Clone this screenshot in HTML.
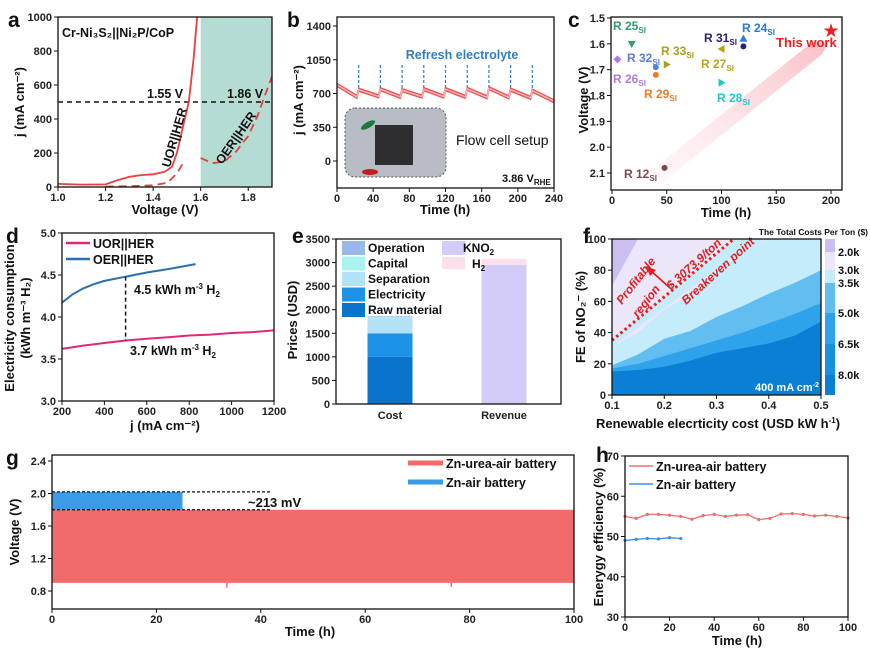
<!DOCTYPE html>
<html><head><meta charset="utf-8"><style>
html,body{margin:0;padding:0;background:#fff;}
svg{display:block;font-family:"Liberation Sans",Arial,sans-serif;}
.tk{font-size:11px;font-weight:bold;fill:#222;}
.tt{font-size:13px;font-weight:bold;fill:#111;}
.pl{font-size:21px;font-weight:bold;fill:#111;}
.lg{font-size:12.5px;font-weight:bold;fill:#111;}
</style></head><body>
<svg id="fig" width="870" height="665" viewBox="0 0 870 665"></svg>
<script>
// ---------- data ----------
const aSolidV=[1.0,1.1,1.2,1.25,1.3,1.35,1.4,1.45,1.48,1.5,1.52,1.55,1.57,1.585];
const aSolidJ=[18,14,15,40,60,70,75,90,120,200,320,500,750,1000];
const aDashV1=[1.2,1.3,1.4,1.46,1.5,1.53];
const aDashJ1=[3,5,10,25,80,150];
const aDashV2=[1.6,1.65,1.7,1.75,1.8,1.84,1.86,1.9];
const aDashJ2=[170,140,150,210,300,420,500,650];
const bTime=[0,22,24,46,48,70,72,94,96,118,120,142,144,166,168,190,192,214,216,240];
const bJ=[790,665,740,670,745,665,735,668,745,668,745,665,748,660,755,660,740,655,730,620];
const bRefresh=[24,48,72,96,120,144,168,192,216];
const cLabels=['R 25','R 32','R 26','R 29','R 33','R 27','R 31','R 24','R 28','R 12'];
const cTime=[18,40,5,40,50,100,120,120,100,48];
const cVolt=[1.6,1.69,1.66,1.72,1.68,1.62,1.61,1.58,1.75,2.08];
const dJ=[200,300,400,500,600,700,800,900,1000,1100,1200];
const dUOR=[3.62,3.66,3.69,3.72,3.74,3.76,3.78,3.79,3.81,3.82,3.84];
const dJo=[200,250,300,350,400,500,600,700,830];
const dOER=[4.17,4.27,4.34,4.39,4.43,4.48,4.53,4.57,4.63];
const eCats=['Cost','Revenue'];
const eCostParts=['Raw material','Electricity','Separation','Capital','Operation'];
const eCostVals=[1000,500,320,20,20];
const eRevParts=['KNO2','H2'];
const eRevVals=[2950,130];
const fX=[0.1,0.15,0.2,0.25,0.3,0.35,0.4,0.45,0.5];
const fB1=[70,100,100,100,100,100,100,100,100];
const fB2=[31,40,55,64,79,93,100,100,100];
const fB3=[19,26,36,41,50,57,65,72,80];
const fB4=[17,20,25,30,35,40,46,52,59];
const fB5=[15,16,18,22,27,30,33,38,47];
const fLevels=['2.0k','3.0k','3.5k','5.0k','6.5k','8.0k'];
const hTimeU=[0,5,10,15,20,25,30,35,40,45,50,55,60,65,70,75,80,85,90,95,100];
const hEffU=[55.0,54.5,55.5,55.5,55.3,55.0,54.3,55.2,55.5,55.0,55.3,55.4,54.2,54.5,55.6,55.7,55.5,55.1,55.3,55.0,54.6];
const hTimeA=[0,5,10,15,20,25];
const hEffA=[49.0,49.3,49.5,49.4,49.7,49.5];
const gRed=[0.9,1.8];
const gBlue=[1.8,2.02];
const gBlueEnd=25;

// ---------- helpers ----------
const NS='http://www.w3.org/2000/svg';
const svg=document.getElementById('fig');
function mk(tag,attrs,parent,text,name,inter){
  const e=document.createElementNS(NS,tag);
  for(const k in attrs)e.setAttribute(k,attrs[k]);
  if(text!=null)e.textContent=text;
  
  
  (parent||svg).appendChild(e);return e;
}
function lin(d0,d1,r0,r1){return v=>r0+(v-d0)*(r1-r0)/(d1-d0);}
function pts(xs,ys,X,Y){return X.map((v,i)=>xs(v).toFixed(1)+','+ys(Y[i]).toFixed(1)).join(' ');}
function frame(g,L,R,T,B,xs,ys,xt,yt,xf,yf){
  xt.forEach(v=>{mk('line',{x1:xs(v),x2:xs(v),y1:B,y2:B+4,stroke:'#111','stroke-width':1},g,null,'x-tick');
    mk('text',{x:xs(v),y:B+14,'text-anchor':'middle',class:'tk'},g,xf(v),'x-tick-label');});
  yt.forEach(v=>{mk('line',{x1:L-4,x2:L,y1:ys(v),y2:ys(v),stroke:'#111','stroke-width':1},g,null,'y-tick');
    mk('text',{x:L-6,y:ys(v)+4,'text-anchor':'end',class:'tk'},g,yf(v),'y-tick-label');});
  mk('rect',{x:L,y:T,width:R-L,height:B-T,fill:'none',stroke:'#111','stroke-width':1.3},g,null,'plot-frame');
}
function G(name){return mk('g',{},svg,null,name);}
function rng(a,b,s){const r=[];for(let v=a;v<=b+1e-9;v+=s)r.push(+v.toFixed(3));return r;}

// ================= panel a =================
(function(){
const g=G('panel-a');
const L=58,R=272,T=17,B=187;
const xs=lin(1.0,1.9,L,R), ys=lin(0,1000,B,T);
mk('rect',{x:xs(1.6),y:T,width:R-xs(1.6),height:B-T,fill:'#b4dcd2'},g,null,'oer-region-shade');
mk('line',{x1:L,x2:R,y1:ys(500),y2:ys(500),stroke:'#111','stroke-width':1.5,'stroke-dasharray':'5,4'},g,null,'500-reference-line');
mk('polyline',{points:pts(xs,ys,aSolidV,aSolidJ),fill:'none',stroke:'#e8403f','stroke-width':1.8},g,null,'uor-her-curve');
mk('polyline',{points:pts(xs,ys,aDashV1,aDashJ1),fill:'none',stroke:'#e8403f','stroke-width':1.8,'stroke-dasharray':'8,5'},g,null,'oer-her-curve-low');
mk('polyline',{points:pts(xs,ys,aDashV2,aDashJ2),fill:'none',stroke:'#e8403f','stroke-width':1.8,'stroke-dasharray':'8,5'},g,null,'oer-her-curve');
frame(g,L,R,T,B,xs,ys,[1.0,1.2,1.4,1.6,1.8],rng(0,1000,200),v=>v.toFixed(1),v=>v);
mk('text',{x:62,y:37,class:'lg','font-size':'13'},g,'Cr-Ni₃S₂||Ni₂P/CoP','catalyst-title');
mk('text',{x:147,y:98,class:'lg','font-size':'13'},g,'1.55 V','label-1-55v');
mk('text',{x:227,y:98,class:'lg','font-size':'13'},g,'1.86 V','label-1-86v');
mk('text',{x:0,y:0,class:'lg','font-size':'13',transform:'translate(170,168) rotate(-74)'},g,'UOR||HER','uor-her-label');
mk('text',{x:0,y:0,class:'lg','font-size':'13',transform:'translate(222,165) rotate(-55)'},g,'OER||HER','oer-her-label');
mk('text',{x:165,y:214,'text-anchor':'middle',class:'tt'},g,'Voltage (V)','x-axis-title');
mk('text',{x:0,y:0,'text-anchor':'middle',class:'tt',transform:'translate(24,102) rotate(-90)'},g,'j (mA cm⁻²)','y-axis-title');
mk('text',{x:8,y:27,class:'pl'},g,'a','panel-label-a');
})();

// ================= panel b =================
(function(){
const g=G('panel-b');
const L=337,R=554,T=17,B=188;
const xs=lin(0,240,L,R), ys=lin(0,1400,161,26);
bRefresh.forEach(t=>mk('line',{x1:xs(t),x2:xs(t),y1:65,y2:88,stroke:'#2f7fc0','stroke-width':1.2,'stroke-dasharray':'3,2'},g,null,'refresh-marker'));
mk('polyline',{points:pts(xs,ys,bTime,bJ.map(v=>v+14)),fill:'none',stroke:'#e8504f','stroke-width':1.5},g,null,'current-curve-upper');
mk('polyline',{points:pts(xs,ys,bTime,bJ.map(v=>v-14)),fill:'none',stroke:'#e8504f','stroke-width':1.5},g,null,'current-curve-lower');
mk('polyline',{points:pts(xs,ys,bTime,bJ),fill:'none',stroke:'#f8b0b0','stroke-width':1.5},g,null,'current-curve-fill');
frame(g,L,R,T,B,xs,ys,rng(0,240,40),[0,350,700,1050,1400],v=>v,v=>v);
mk('rect',{x:345,y:108,width:101,height:69,rx:10,fill:'#b8bcc4',stroke:'#555','stroke-dasharray':'2,2'},g,null,'flow-cell-photo');
mk('rect',{x:375,y:125,width:38,height:40,fill:'#2e2e30'},g,null,'flow-cell-body');
mk('ellipse',{cx:368,cy:125,rx:8,ry:3,fill:'#1a7a3a',transform:'rotate(-30 368 125)'},g,null,'green-clip');
mk('ellipse',{cx:370,cy:172,rx:8,ry:3,fill:'#c02020'},g,null,'red-clip');
mk('text',{x:456,y:145,'font-size':'14',fill:'#111'},g,'Flow cell setup','inset-caption');
mk('text',{x:462,y:59,'text-anchor':'middle','font-size':'12.5','font-weight':'bold',fill:'#2f7fc0'},g,'Refresh electrolyte','refresh-label');
const v=mk('text',{x:502,y:182,'font-size':'11','font-weight':'bold',fill:'#111'},g,null,'potential-label');
v.innerHTML='3.86 V<tspan font-size="8" dy="3">RHE</tspan>';
mk('text',{x:445,y:214,'text-anchor':'middle',class:'tt'},g,'Time (h)','x-axis-title');
mk('text',{x:0,y:0,'text-anchor':'middle',class:'tt',transform:'translate(303,100) rotate(-90)'},g,'j (mA cm⁻²)','y-axis-title');
mk('text',{x:287,y:27,class:'pl'},g,'b','panel-label-b');
})();

// ================= panel c =================
(function(){
const g=G('panel-c');
const L=611,R=842,T=17,B=190;
const xs=lin(0,200,612,831), ys=lin(1.5,2.1,18,173);
const grad=mk('linearGradient',{id:'cg',x1:'0',y1:'1',x2:'1',y2:'0'},g,null,'arrow-gradient');
mk('stop',{offset:'0','stop-color':'#fde8ea','stop-opacity':'0.3'},grad,null,'stop');
mk('stop',{offset:'1','stop-color':'#f8b8c0','stop-opacity':'0.9'},grad,null,'stop');
mk('polygon',{points:`${xs(33)},${ys(2.1)} ${xs(45)},${ys(2.14)} ${xs(192)},${ys(1.64)} ${xs(197)},${ys(1.6)} ${xs(186)},${ys(1.59)} ${xs(178)},${ys(1.61)}`,fill:'url(#cg)'},g,null,'trend-arrow');
const cols=['#2e9e6a','#5a80d0','#b07ae0','#f07a20','#a8a020','#c0a018','#302070','#2a78d8','#20c8c8','#7a4a4a'];
const shapes=['tdown','circ','diam','circ','tright','tleft','circ','tup','tright','circ'];
const lpx=[613,627,613,644,661,701,704,742,717,624], lpy=[30,62,83,98,55,68,42,32,102,178];
cLabels.forEach((lab,i)=>{
  const x=xs(cTime[i]),y=ys(cVolt[i]),c=cols[i],s=shapes[i];let p;
  if(s==='circ')p=`M${x-3},${y}a3,3 0 1,0 6,0a3,3 0 1,0 -6,0`;
  else if(s==='diam')p=`M${x},${y-4}L${x+4},${y}L${x},${y+4}L${x-4},${y}Z`;
  else if(s==='tdown')p=`M${x-4},${y-3}L${x+4},${y-3}L${x},${y+4}Z`;
  else if(s==='tup')p=`M${x-4},${y+3}L${x+4},${y+3}L${x},${y-4}Z`;
  else if(s==='tright')p=`M${x-3},${y-4}L${x+4},${y}L${x-3},${y+4}Z`;
  else p=`M${x+3},${y-4}L${x-4},${y}L${x+3},${y+4}Z`;
  mk('path',{d:p,fill:c},g,null,'reference-point');
  const t=mk('text',{x:lpx[i],y:lpy[i],'font-size':'12','font-weight':'bold',fill:c},g,null,'reference-label');
  t.innerHTML=lab+'<tspan font-size="8" dy="3">SI</tspan>';
});
mk('text',{x:xs(200),y:ys(1.55)+6,'text-anchor':'middle','font-size':'19',fill:'#e82020'},g,'★','this-work-point');
mk('text',{x:776,y:47,'font-size':'13','font-weight':'bold',fill:'#e82020'},g,'This work','this-work-label');
frame(g,L,R,T,B,xs,ys,[0,50,100,150,200],rng(1.5,2.1,0.1),v=>v,v=>v.toFixed(1));
mk('text',{x:726,y:217,'text-anchor':'middle',class:'tt'},g,'Time (h)','x-axis-title');
mk('text',{x:0,y:0,'text-anchor':'middle',class:'tt',transform:'translate(588,100) rotate(-90)'},g,'Voltage (V)','y-axis-title');
mk('text',{x:568,y:27,class:'pl'},g,'c','panel-label-c');
})();

// ================= panel d =================
(function(){
const g=G('panel-d');
const L=62,R=274,T=233,B=401;
const xs=lin(200,1200,L,R), ys=lin(3,5,B,T);
mk('polyline',{points:pts(xs,ys,dJ,dUOR),fill:'none',stroke:'#e0287a','stroke-width':2},g,null,'uor-her-line');
mk('polyline',{points:pts(xs,ys,dJo,dOER),fill:'none',stroke:'#2c6fb0','stroke-width':2},g,null,'oer-her-line');
mk('line',{x1:xs(500),x2:xs(500),y1:ys(4.48),y2:ys(3.72),stroke:'#111','stroke-width':1.5,'stroke-dasharray':'4,3'},g,null,'difference-marker');
frame(g,L,R,T,B,xs,ys,rng(200,1200,200),rng(3,5,0.5),v=>v,v=>v.toFixed(1));
mk('line',{x1:66,x2:90,y1:243,y2:243,stroke:'#e0287a','stroke-width':2.5},g,null,'legend-uor-swatch');
mk('text',{x:93,y:248,class:'lg'},g,'UOR||HER','legend-uor');
mk('line',{x1:66,x2:90,y1:259,y2:259,stroke:'#2c6fb0','stroke-width':2.5},g,null,'legend-oer-swatch');
mk('text',{x:93,y:264,class:'lg'},g,'OER||HER','legend-oer');
const t1=mk('text',{x:134,y:294,'font-size':'12.5','font-weight':'bold',fill:'#111'},g,null,'annotation-4-5');
t1.innerHTML='4.5 kWh m<tspan font-size="8" dy="-5">-3</tspan><tspan dy="5"> H</tspan><tspan font-size="8" dy="3">2</tspan>';
const t2=mk('text',{x:130,y:355,'font-size':'12.5','font-weight':'bold',fill:'#111'},g,null,'annotation-3-7');
t2.innerHTML='3.7 kWh m<tspan font-size="8" dy="-5">-3</tspan><tspan dy="5"> H</tspan><tspan font-size="8" dy="3">2</tspan>';
mk('text',{x:165,y:430,'text-anchor':'middle',class:'tt'},g,'j (mA cm⁻²)','x-axis-title');
mk('text',{x:0,y:0,'text-anchor':'middle',class:'tt',transform:'translate(14,318) rotate(-90)'},g,'Electricity consumption','y-axis-title');
mk('text',{x:0,y:0,'text-anchor':'middle',class:'tt',transform:'translate(30,318) rotate(-90)'},g,'(kWh m⁻³ H₂)','y-axis-title-unit');
mk('text',{x:6,y:243,class:'pl'},g,'d','panel-label-d');
})();

// ================= panel e =================
(function(){
const g=G('panel-e');
const L=336,R=561,T=239,B=404;
const ys=lin(0,3500,B,T);
const xc=[390,504], bw=45;
const cc=['#0a74cc','#1c93e6','#b3e2f6','#a8f2f0','#9ab8ea'];
let acc=0;
eCostParts.forEach((p,i)=>{mk('rect',{x:xc[0]-bw/2,y:ys(acc+eCostVals[i]),width:bw,height:ys(acc)-ys(acc+eCostVals[i]),fill:cc[i]},g,null,'cost-'+p.toLowerCase().replace(' ','-'));acc+=eCostVals[i];});
const rc=['#d3ccf8','#fbe0ec'];acc=0;
eRevParts.forEach((p,i)=>{mk('rect',{x:xc[1]-bw/2,y:ys(acc+eRevVals[i]),width:bw,height:ys(acc)-ys(acc+eRevVals[i]),fill:rc[i]},g,null,'revenue-'+p.toLowerCase());acc+=eRevVals[i];});
rng(0,3500,500).forEach(v=>{mk('line',{x1:L-4,x2:L,y1:ys(v),y2:ys(v),stroke:'#111'},g,null,'y-tick');mk('text',{x:L-6,y:ys(v)+4,'text-anchor':'end',class:'tk'},g,v,'y-tick-label');});
eCats.forEach((c,i)=>mk('text',{x:xc[i],y:B+15,'text-anchor':'middle',class:'tk','font-size':'12'},g,c,'x-category-label'));
mk('rect',{x:L,y:T,width:R-L,height:B-T,fill:'none',stroke:'#111','stroke-width':1.3},g,null,'plot-frame');
const lab=['Operation','Capital','Separation','Electricity','Raw material'], lc=[cc[4],cc[3],cc[2],cc[1],cc[0]];
lab.forEach((t,i)=>{const y=248+i*15.5;mk('rect',{x:342,y:y-7,width:23,height:14,fill:lc[i]},g,null,'legend-swatch');mk('text',{x:368,y:y+4,'font-size':'12','font-weight':'bold',fill:'#111'},g,t,'legend-entry');});
mk('rect',{x:442,y:241,width:23,height:14,fill:rc[0]},g,null,'legend-swatch');
const k=mk('text',{x:463,y:252,'font-size':'12','font-weight':'bold',fill:'#111'},g,null,'legend-entry');k.innerHTML='KNO<tspan font-size="8" dy="3">2</tspan>';
mk('rect',{x:442,y:257,width:23,height:12,fill:rc[1]},g,null,'legend-swatch');
const h=mk('text',{x:472,y:268,'font-size':'12','font-weight':'bold',fill:'#111'},g,null,'legend-entry');h.innerHTML='H<tspan font-size="8" dy="3">2</tspan>';
mk('text',{x:0,y:0,'text-anchor':'middle',class:'tt',transform:'translate(297,320) rotate(-90)'},g,'Prices (USD)','y-axis-title');
mk('text',{x:292,y:243,class:'pl'},g,'e','panel-label-e');
})();

// ================= panel f =================
(function(){
const g=G('panel-f');
const L=612,R=821,T=239,B=395;
const xs=lin(0.1,0.5,L,R), ys=lin(0,100,B,T);
const fc=['#cbbff0','#ebe6fa','#c5ecfb','#62bdf0','#2ea3ec','#1890e0','#0b7fd4'];
mk('rect',{x:L,y:T,width:R-L,height:B-T,fill:fc[0]},g,null,'region-2k');
const bands=[fB1,fB2,fB3,fB4,fB5];
bands.forEach((b,i)=>{
  const top=fX.map((x,j)=>xs(x).toFixed(1)+','+ys(b[j]).toFixed(1)).join(' ');
  mk('polygon',{points:`${L},${B} ${top} ${R},${B}`,fill:fc[i+1]},g,null,'cost-region-'+i);
});
mk('polygon',{points:`${xs(0.1)},${ys(35)} ${xs(0.333)},${ys(100)} ${xs(0.396)},${ys(100)} ${xs(0.35)},${ys(93)} ${xs(0.1)},${ys(31)}`,fill:fc[2]},g,null,'breakeven-band');
mk('polygon',{points:fX.map((x,j)=>xs(x)+','+ys(fB5[j])).join(' ')+` ${R},${B} ${L},${B}`,fill:fc[6]},g,null,'region-8k');
mk('line',{x1:xs(0.1),y1:ys(35),x2:xs(0.333),y2:ys(100),stroke:'#e02020','stroke-width':3,'stroke-dasharray':'2.5,3'},g,null,'breakeven-line');
mk('line',{x1:670,y1:288,x2:650,y2:270,stroke:'#e02020','stroke-width':1.8},g,null,'profit-arrow');
mk('polygon',{points:'646,266 656,270 650,276',fill:'#e02020'},g,null,'profit-arrowhead');
const rs='font-size:12px;font-weight:bold;font-style:italic;fill:#e02020';
mk('text',{x:0,y:0,style:rs,transform:'translate(622,305) rotate(-52)'},g,'Profitable','profitable-label');
mk('text',{x:0,y:0,style:rs,transform:'translate(638,318) rotate(-52)'},g,'region','region-label');
mk('text',{x:0,y:0,style:rs,transform:'translate(671,290) rotate(-42)'},g,'$ 3073.9/ton','breakeven-value');
mk('text',{x:0,y:0,style:rs,transform:'translate(686,305) rotate(-42)'},g,'Breakeven point','breakeven-label');
const w=mk('text',{x:755,y:391,'font-size':'11','font-weight':'bold',fill:'#fff'},g,null,'current-density-label');
w.innerHTML='400 mA cm<tspan font-size="7" dy="-4">-2</tspan>';
frame(g,L,R,T,B,xs,ys,[0.1,0.2,0.3,0.4,0.5],rng(0,100,20),v=>v.toFixed(1),v=>v);
const cbT=[[239,252,fc[0]],[252,270,fc[1]],[270,283,fc[2]],[283,313,fc[3]],[313,344,fc[4]],[344,375,fc[5]],[375,395,fc[6]]];
cbT.forEach(s=>mk('rect',{x:825,y:s[0],width:10,height:s[1]-s[0],fill:s[2]},g,null,'colorbar-segment'));
const cy=[252,270,283,313,344,375];
fLevels.forEach((l,i)=>mk('text',{x:838,y:cy[i]+4,'font-size':'11','font-weight':'bold',fill:'#111'},g,l,'colorbar-label'));
mk('text',{x:868,y:235,'text-anchor':'end','font-size':'8.5','font-weight':'bold',fill:'#111'},g,'The Total Costs Per Ton ($)','colorbar-title');
const xt=mk('text',{x:718,y:428,'text-anchor':'middle',class:'tt'},g,null,'x-axis-title');
xt.innerHTML='Renewable elecrticity cost (USD kW h<tspan font-size="8" dy="-5">-1</tspan><tspan dy="5">)</tspan>';
mk('text',{x:0,y:0,'text-anchor':'middle',class:'tt',transform:'translate(585,317) rotate(-90)'},g,'FE of NO₂⁻ (%)','y-axis-title');
mk('text',{x:583,y:243,class:'pl'},g,'f','panel-label-f');
})();

// ================= panel g =================
(function(){
const g=G('panel-g');
const L=52,R=574,T=455,B=609;
const xs=lin(0,100,L,R), ys=lin(0.8,2.4,591,461);
mk('rect',{x:xs(0),y:ys(gRed[1]),width:xs(100)-xs(0),height:ys(gRed[0])-ys(gRed[1]),fill:'#f26b6b'},g,null,'zn-urea-air-band');
mk('path',{d:`M${xs(0)},${ys(gRed[0])} L${xs(1)},${ys(0.96)} L${xs(3)},${ys(0.92)} L${xs(0)},${ys(0.92)}Z`,fill:'#f26b6b'},g,null,'initial-spike');
mk('line',{x1:xs(33.5),x2:xs(33.5),y1:ys(0.9),y2:ys(0.84),stroke:'#f26b6b','stroke-width':1.5},g,null,'spike');
mk('line',{x1:xs(76.5),x2:xs(76.5),y1:ys(0.9),y2:ys(0.85),stroke:'#f26b6b','stroke-width':1.5},g,null,'spike');
mk('rect',{x:xs(0),y:ys(gBlue[1]),width:xs(gBlueEnd)-xs(0),height:ys(gBlue[0])-ys(gBlue[1]),fill:'#3a9be8'},g,null,'zn-air-band');
mk('line',{x1:xs(0),x2:xs(42),y1:ys(gBlue[1]),y2:ys(gBlue[1]),stroke:'#111','stroke-width':1.3,'stroke-dasharray':'3,2'},g,null,'upper-reference-line');
mk('line',{x1:xs(0),x2:xs(42),y1:ys(gBlue[0]),y2:ys(gBlue[0]),stroke:'#111','stroke-width':1.3,'stroke-dasharray':'3,2'},g,null,'lower-reference-line');
mk('text',{x:248,y:507,'font-size':'13','font-weight':'bold',fill:'#111'},g,'~213 mV','voltage-gap-label');
frame(g,L,R,T,B,xs,ys,rng(0,100,20),[0.8,1.2,1.6,2.0,2.4],v=>v,v=>v.toFixed(1));
mk('line',{x1:408,x2:443,y1:463,y2:463,stroke:'#f26b6b','stroke-width':5},g,null,'legend-zn-urea-swatch');
mk('text',{x:446,y:468,class:'lg','font-size':'13'},g,'Zn-urea-air battery','legend-zn-urea');
mk('line',{x1:408,x2:443,y1:482,y2:482,stroke:'#3a9be8','stroke-width':5},g,null,'legend-zn-air-swatch');
mk('text',{x:446,y:487,class:'lg','font-size':'13'},g,'Zn-air battery','legend-zn-air');
mk('text',{x:310,y:636,'text-anchor':'middle',class:'tt','font-size':'14'},g,'Time (h)','x-axis-title');
mk('text',{x:0,y:0,'text-anchor':'middle',class:'tt',transform:'translate(19,532) rotate(-90)'},g,'Voltage (V)','y-axis-title');
mk('text',{x:6,y:465,class:'pl'},g,'g','panel-label-g');
})();

// ================= panel h =================
(function(){
const g=G('panel-h');
const L=625,R=848,T=456,B=617;
const xs=lin(0,100,L,R), ys=lin(30,70,B,T);
mk('polyline',{points:pts(xs,ys,hTimeU,hEffU),fill:'none',stroke:'#ee6e6e','stroke-width':1.3},g,null,'zn-urea-efficiency-line');
hTimeU.forEach((t,i)=>mk('circle',{cx:xs(t),cy:ys(hEffU[i]),r:1.6,fill:'#ee6e6e'},g,null,'zn-urea-point'));
mk('polyline',{points:pts(xs,ys,hTimeA,hEffA),fill:'none',stroke:'#3a8fe0','stroke-width':1.3},g,null,'zn-air-efficiency-line');
hTimeA.forEach((t,i)=>mk('circle',{cx:xs(t),cy:ys(hEffA[i]),r:1.6,fill:'#3a8fe0'},g,null,'zn-air-point'));
frame(g,L,R,T,B,xs,ys,rng(0,100,20),rng(30,70,10),v=>v,v=>v);
mk('line',{x1:629,x2:653,y1:466,y2:466,stroke:'#ee6e6e','stroke-width':1.5},g,null,'legend-zn-urea-swatch');
mk('text',{x:656,y:471,class:'lg','font-size':'13'},g,'Zn-urea-air battery','legend-zn-urea');
mk('line',{x1:629,x2:653,y1:484,y2:484,stroke:'#3a8fe0','stroke-width':1.5},g,null,'legend-zn-air-swatch');
mk('text',{x:656,y:489,class:'lg','font-size':'13'},g,'Zn-air battery','legend-zn-air');
mk('text',{x:737,y:645,'text-anchor':'middle',class:'tt','font-size':'14'},g,'Time (h)','x-axis-title');
mk('text',{x:0,y:0,'text-anchor':'middle',class:'tt',transform:'translate(603,537) rotate(-90)'},g,'Enerygy efficiency (%)','y-axis-title');
mk('text',{x:596,y:462,class:'pl'},g,'h','panel-label-h');
})();
</script>
</body></html>
